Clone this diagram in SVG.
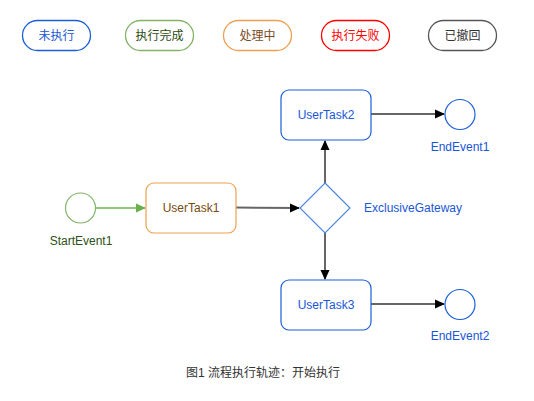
<svg xmlns="http://www.w3.org/2000/svg" width="534" height="401" viewBox="0 0 534 401">
<style>
text{font-family:"Liberation Sans","Noto Sans CJK SC",sans-serif;font-size:12px;text-anchor:middle}
.pill{fill:#fff;stroke-width:1.3}
.task{fill:#fff;stroke-width:1.2}
.conn{fill:none;stroke:#666;stroke-width:2}
.blue{fill:#1a56d6}
</style>
<defs>
<marker id="ab" markerWidth="10" markerHeight="10" refX="9" refY="5" orient="auto" markerUnits="userSpaceOnUse"><path d="M0,0.5 L10,5 L0,9.5 Z" fill="#000"/></marker>
<marker id="ag" markerWidth="10" markerHeight="10" refX="9" refY="5" orient="auto" markerUnits="userSpaceOnUse"><path d="M0,0.5 L10,5 L0,9.5 Z" fill="#6ab04c"/></marker>
</defs>
<rect width="534" height="401" fill="#fff"/>
<g id="legend">
<g id="legend-notrun"><rect class="pill" x="22.5" y="20.5" width="68" height="30" rx="15" stroke="#1a5fd6"/><text x="56.5" y="40" fill="#1a56d6">未执行</text></g>
<g id="legend-done"><rect class="pill" x="125.5" y="20.5" width="68" height="30" rx="15" stroke="#82b366"/><text x="159.5" y="40" fill="#2d4a12">执行完成</text></g>
<g id="legend-running"><rect class="pill" x="223.5" y="20.5" width="68" height="30" rx="15" stroke="#eea050"/><text x="257.5" y="40" fill="#7a4a1a">处理中</text></g>
<g id="legend-failed"><rect class="pill" x="321.5" y="20.5" width="68" height="30" rx="15" stroke="#ff0000"/><text x="355.5" y="40" fill="#ff0000">执行失败</text></g>
<g id="legend-revoked"><rect class="pill" x="428.5" y="20.5" width="68" height="30" rx="15" stroke="#555"/><text x="462.5" y="40" fill="#333">已撤回</text></g>
</g>
<g id="connectors">
<path d="M96,208 H145" fill="none" stroke="#8fc67a" stroke-width="2" marker-end="url(#ag)"/>
<path class="conn" d="M236,207.5 L299,208" marker-end="url(#ab)"/>
<path class="conn" d="M325,183 V141" marker-end="url(#ab)"/>
<path class="conn" d="M325,233 V279" marker-end="url(#ab)"/>
<path class="conn" d="M371,114 H444" marker-end="url(#ab)"/>
<path class="conn" d="M371,304 H444" marker-end="url(#ab)"/>
</g>
<g id="StartEvent1"><circle cx="80.5" cy="208" r="15" fill="#fff" stroke="#82b366" stroke-width="1.2"/><text x="81" y="245" fill="#2d5016">StartEvent1</text></g>
<g id="UserTask1"><rect class="task" x="146" y="183" width="90" height="50" rx="8" stroke="#f0a050"/><text x="191" y="212" fill="#7a4a10">UserTask1</text></g>
<g id="ExclusiveGateway"><path d="M325,183 L350,208 L325,233 L300,208 Z" fill="#fff" stroke="#4f86e0" stroke-width="1.2"/><text x="413" y="212" class="blue">ExclusiveGateway</text></g>
<g id="UserTask2"><rect class="task" x="281" y="90" width="90" height="50" rx="8" stroke="#1a5fd6"/><text x="326" y="119" class="blue">UserTask2</text></g>
<g id="UserTask3"><rect class="task" x="281" y="280" width="90" height="50" rx="8" stroke="#1a5fd6"/><text x="326" y="309" class="blue">UserTask3</text></g>
<g id="EndEvent1"><circle cx="460" cy="114.5" r="15" fill="#fff" stroke="#1a5fd6" stroke-width="1.2"/><text x="460" y="151" class="blue">EndEvent1</text></g>
<g id="EndEvent2"><circle cx="460" cy="304.5" r="15" fill="#fff" stroke="#1a5fd6" stroke-width="1.2"/><text x="460" y="340" class="blue">EndEvent2</text></g>
<text x="263" y="377" fill="#333">图1 流程执行轨迹：开始执行</text>
</svg>
